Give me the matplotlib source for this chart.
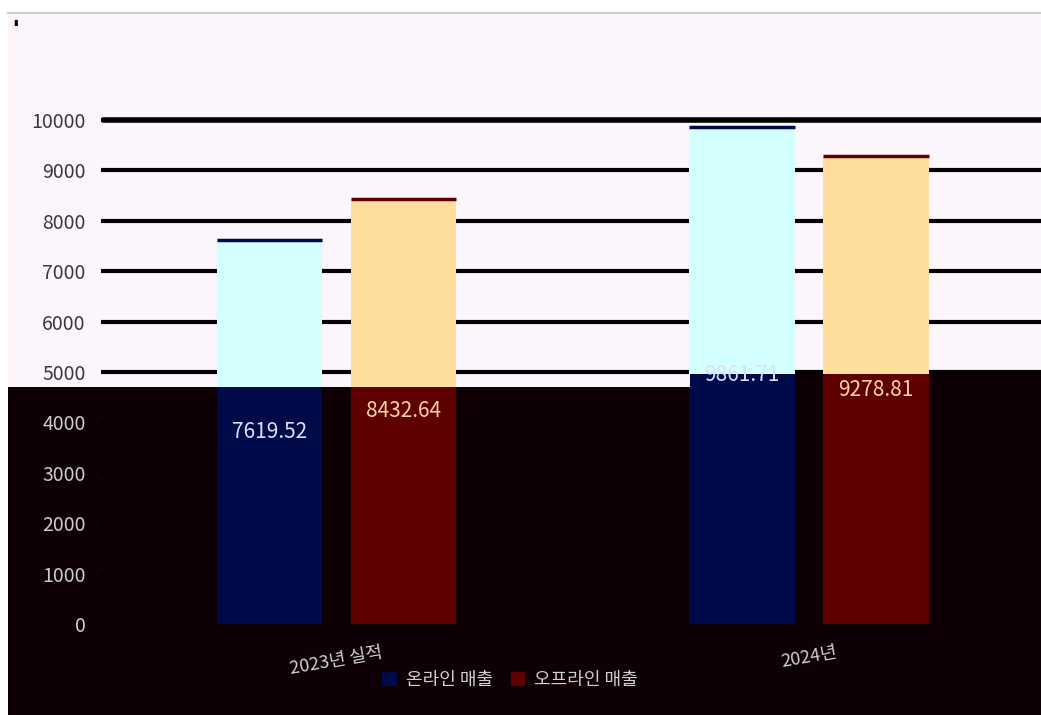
import matplotlib
matplotlib.use("Agg")
import matplotlib.pyplot as plt
from matplotlib.patches import Polygon, Rectangle, Patch
from matplotlib.lines import Line2D
import numpy as np

plt.rcParams['font.family'] = ['Noto Sans CJK KR', 'DejaVu Sans']

categories = ["2023년 실적", "2024년"]
series_names = ["온라인 매출", "오프라인 매출"]
online = [7619.52, 9861.71]
offline = [8432.64, 9278.81]
yticks = [0, 1000, 2000, 3000, 4000, 5000, 6000, 7000, 8000, 9000, 10000]

light_bg = "#fcf5fc"
dark_bg = "#0e0004"
light_cols = ["#d4ffff", "#ffdd9c"]
dark_cols = ["#000a48", "#5e0000"]
label_cols = ["#d8e0ff", "#ffd2a0"]

W, H = 1041, 715
fig = plt.figure(figsize=(W / 100, H / 100), dpi=100)
fig.patch.set_facecolor("white")

# page background, light upper part and dark lower band
fig.patches.append(Rectangle((8 / W, 0), 1 - 8 / W, 1 - 13 / H, transform=fig.transFigure,
                             facecolor=light_bg, edgecolor="none", zorder=-3))
fig.lines.append(Line2D([8 / W, 1], [1 - 12.5 / H] * 2, transform=fig.transFigure,
                        color="#cfcfcf", lw=1.5))
fig.text(13 / W, 1 - 22 / H, "\u25ae", fontsize=6, color="black", family="DejaVu Sans",
         va="center", ha="left")
yb1, yb2 = 1 - 387 / H, 1 - 374 / H
band_pts = [(8 / W, 0), (8 / W, yb1), (690 / W, yb1), (690 / W, yb2), (1, yb2), (1, 0)]
band = Polygon(band_pts, closed=True, transform=fig.transFigure, facecolor=dark_bg,
               edgecolor="none", zorder=-2)
fig.patches.append(band)
# complement of the band, used to clip grid lines
upper = Polygon([(0, 1), (0, yb1), (690 / W, yb1), (690 / W, yb2), (1, yb2), (1, 1)],
                closed=True, transform=fig.transFigure)

ax = fig.add_axes([105 / W, 1 - 624 / H, 1 - 105 / W, (624 - 120) / H])
ax.set_facecolor("none")

for t in yticks:
    ln = ax.axhline(t, color="black", lw=3, zorder=0.5)
    ln.set_clip_path(upper)

x = np.arange(len(categories))
w = 0.224
off = 0.1418
for i, vals in enumerate([online, offline]):
    pos = x + (i * 2 - 1) * off
    cont = ax.bar(pos, vals, w, color=light_cols[i], zorder=2)
    dark = ax.bar(pos, vals, w, color=dark_cols[i], zorder=2.5)
    for p in dark:
        p.set_clip_path(band)
    ax.hlines(vals, pos - w / 2, pos + w / 2, color=dark_cols[i], lw=2.5, zorder=3)
    ax.bar_label(cont, labels=[f"{v:.2f}" for v in vals], label_type="center",
                 color=label_cols[i], fontsize=15, zorder=5)

ax.set_xlim(-0.49, 1.491)
ax.set_ylim(0, 10000)
ax.set_yticks(yticks, [str(t) for t in yticks])
ax.tick_params(axis="y", length=3, width=3, color="black", pad=11, labelsize=14)
ax.set_xticks(x, categories)
ax.tick_params(axis="x", length=0, pad=14, labelsize=13, labelcolor="#d0d0d0")
for lab in ax.get_xticklabels():
    lab.set_rotation(10)
for s in ["left", "right", "bottom"]:
    ax.spines[s].set_visible(False)
ax.spines["top"].set_linewidth(4)

boundary = yb1 * H
for t, lab in zip(yticks, ax.get_yticklabels()):
    ypix = ax.transData.transform((0, t))[1]
    lab.set_color("#cccccc" if ypix < boundary else "#3a3a3a")

handles = [Patch(facecolor=c) for c in dark_cols]
fig.legend(handles, series_names, loc="center", bbox_to_anchor=(510 / W, 1 - 680 / H), ncol=2,
           frameon=False, fontsize=13, labelcolor="#d0d0d0", handlelength=0.8, handleheight=0.8,
           handletextpad=0.5, columnspacing=1.0)

fig.savefig("out.png", dpi=100, facecolor=fig.get_facecolor())
